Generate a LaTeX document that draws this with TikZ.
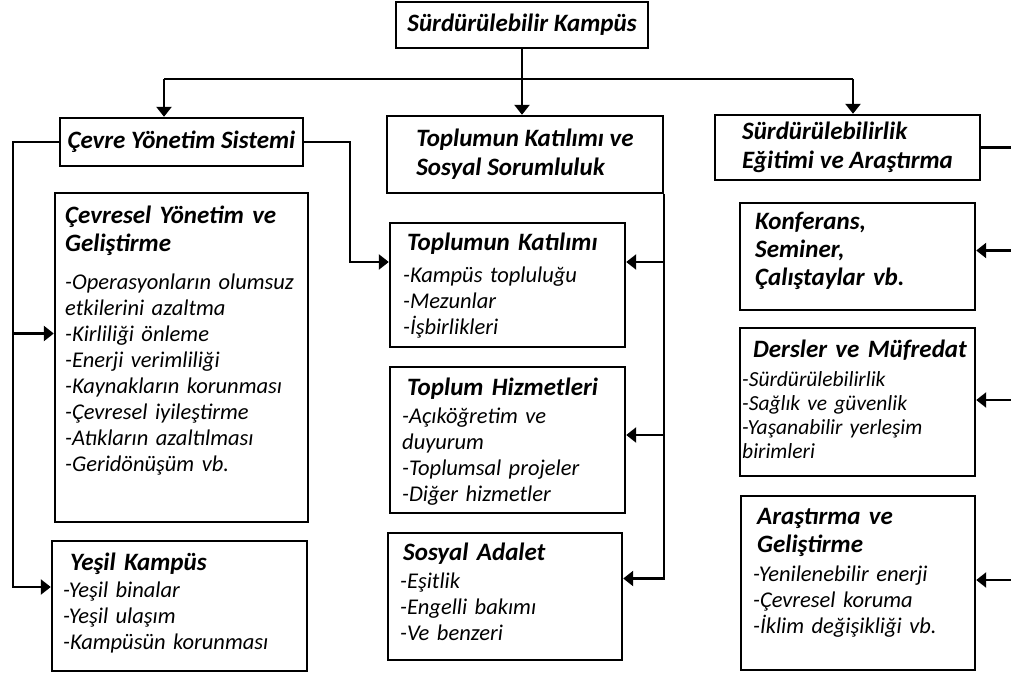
\documentclass[tikz,border=0pt]{standalone}
\usepackage{fontspec}
\setmainfont{Carlito}
\usetikzlibrary{arrows.meta}

\tikzset{
    box/.style={draw, line width=2.4pt, inner sep=0pt},
    title/.style={font=\fontsize{25}{29}\selectfont\bfseries\itshape, align=left},
    head/.style={anchor=base west, inner sep=0pt, text width=250pt, align=left,
        font=\fontsize{25}{28}\selectfont\bfseries\itshape},
    items/.style={anchor=base west, inner sep=0pt, text width=250pt, align=left,
        font=\fontsize{22.5}{26}\selectfont\itshape},
    small items/.style={items, font=\fontsize{21.5}{24}\selectfont\itshape},
    link/.style={line width=2.4pt},
}

\begin{document}
\begin{tikzpicture}[x=1pt, y=-1pt, >={Triangle[length=10pt, width=15pt]}]
        \path [use as bounding box, clip] (0,0) rectangle (1011,674);

        %%%%%%%%%%%%%%%%%%%%%%%%%%%%%%%%%%%%%%%%%%%%
        % Top level boxes
        %%%%%%%%%%%%%%%%%%%%%%%%%%%%%%%%%%%%%%%%%%%%
        \node [box, title, minimum width=252pt, minimum height=46pt] (root) at (522,25) {Sürdürülebilir Kampüs};
        \node [box, title, minimum width=243pt, minimum height=48pt] (cys) at (181.5,142) {Çevre Yönetim Sistemi};
        \node [box, title, minimum width=276pt, minimum height=77pt] (toplum) at (525,154.5) {Toplumun Katılımı ve\\Sosyal Sorumluluk};
        \node [box, title, minimum width=265pt, minimum height=65pt] (sea) at (847.5,147.5) {Sürdürülebilirlik\\Eğitimi ve Araştırma};

        %%%%%%%%%%%%%%%%%%%%%%%%%%%%%%%%%%%%%%%%%%%%
        % Sub boxes
        %%%%%%%%%%%%%%%%%%%%%%%%%%%%%%%%%%%%%%%%%%%%

        % Drawing
        \foreach \n/\x/\y/\w/\h in {cyg/181.5/357.5/253/329, yesil/179.5/606/255/130,
                tk/507.5/285/235/124, th/507.5/440/235/146, sa/505/596.5/234/127,
                konf/857.5/256.5/235/107, ders/857.5/402/235/148, ars/858/583/234/174}
            \node [box, minimum width=\w pt, minimum height=\h pt] (\n) at (\x,\y) {};

        % Labeling
        \node [head] (cyg-h) at (65,223) {Çevresel Yönetim ve\\Geliştirme};
        \node [items] (cyg-l) at (65,289) {-Operasyonların olumsuz\\etkilerini azaltma\\-Kirliliği önleme\\-Enerji verimliliği\\-Kaynakların korunması\\-Çevresel iyileştirme\\-Atıkların azaltılması\\-Geridönüşüm vb.};

        \node [head] (yesil-h) at (70,570) {Yeşil Kampüs};
        \node [items] (yesil-l) at (63,597) {-Yeşil binalar\\-Yeşil ulaşım\\-Kampüsün korunması};

        \node [head] (tk-h) at (407,250) {Toplumun Katılımı};
        \node [items] (tk-l) at (403,282) {-Kampüs topluluğu\\-Mezunlar\\-İşbirlikleri};

        \node [head] (th-h) at (407,395) {Toplum Hizmetleri};
        \node [items] (th-l) at (402,423) {-Açıköğretim ve\\duyurum\\-Toplumsal projeler\\-Diğer hizmetler};

        \node [head] (sa-h) at (403,560) {Sosyal Adalet};
        \node [items] (sa-l) at (400,588) {-Eşitlik\\-Engelli bakımı\\-Ve benzeri};

        \node [head] (konf-h) at (755,229) {Konferans,\\Seminer,\\Çalıştaylar vb.};

        \node [head] (ders-h) at (753,357) {Dersler ve Müfredat};
        \node [small items] (ders-l) at (742,386) {-Sürdürülebilirlik\\-Sağlık ve güvenlik\\-Yaşanabilir yerleşim\\birimleri};

        \node [head] (ars-h) at (757,524) {Araştırma ve\\Geliştirme};
        \node [items] (ars-l) at (753,581) {-Yenilenebilir enerji\\-Çevresel koruma\\-İklim değişikliği vb.};

        %%%%%%%%%%%%%%%%%%%%%%%%%%%%%%%%%%%%%%%%%%%%
        % Connecting
        %%%%%%%%%%%%%%%%%%%%%%%%%%%%%%%%%%%%%%%%%%%%

        % Root to top level
        \coordinate (busL) at (164,79);
        \coordinate (busR) at (853,79);
        \draw [link] (root.south) -- (root.south |- busL);
        \draw [link] (busL) -- (busR);
        \draw [link, ->] (busL) -- (busL |- cys.north);
        \draw [link, ->] (root.south) -- (root.south |- toplum.north);
        \draw [link, ->] (busR) -- (busR |- sea.north);

        % Cevre Yonetim Sistemi to its boxes
        \coordinate (spineL) at (13,0);
        \coordinate (spineM) at (350,0);
        \draw [link, ->] (cys.west) -- (cys.west -| spineL) |- ([yshift=19pt]yesil.west);
        \draw [link, ->] (cys.west -| spineL) |- ([yshift=24pt]cyg.west);
        \draw [link, ->] (cys.east) -- (cys.east -| spineM) |- ([yshift=23pt]tk.west);

        % Toplumun Katilimi ve Sosyal Sorumluluk to its boxes
        \draw [link, ->] (toplum.south east) |- ([yshift=18pt]sa.east);
        \foreach \b/\s in {tk/23, th/5}
            \draw [link, ->] ([yshift=\s pt]\b.east -| toplum.east) -- ([yshift=\s pt]\b.east);

        % Egitim ve Arastirma to its boxes
        \coordinate (spineR) at (1030,0);
        \draw [link] (sea.east) -- (sea.east -| spineR) -- (spineR |- ars.east);
        \foreach \b/\s in {konf/6, ders/2, ars/3}
            \draw [link, ->] ([yshift=\s pt]\b.east -| spineR) -- ([yshift=\s pt]\b.east);
\end{tikzpicture}
\end{document}
